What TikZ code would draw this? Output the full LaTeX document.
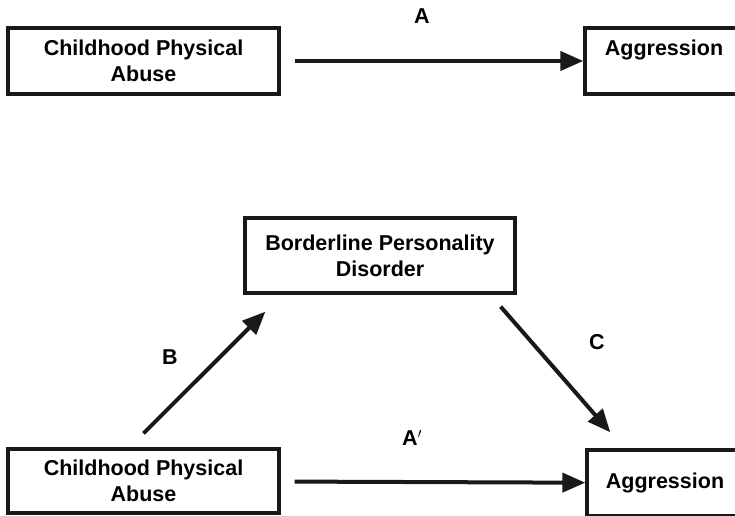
\documentclass[tikz,border=0pt]{standalone}
\usepackage{fontspec}
\setmainfont{Liberation Sans}
\usetikzlibrary{arrows.meta, positioning}

\begin{document}
\begin{tikzpicture}[
    x=1pt, y=1pt,
    every node/.style={font=\fontsize{21.5}{26}\selectfont\bfseries, align=center},
    cadru/.style={draw=black!90, line width=3.3pt, inner sep=0pt},
    eticheta/.style={inner sep=0pt},
    sageata/.style={-{Triangle[length=23pt, width=19pt]}, line width=4pt, black!90}
]
\useasboundingbox (0,0) rectangle (735,515);
% model A
\node[cadru, minimum width=271pt, minimum height=66pt] (cpa1) at (143.5,454) {Childhood Physical\\Abuse};
\node[cadru, minimum width=158pt, minimum height=66pt] (agg1) at (664,454) {Aggression\\\mbox{}};
\draw[sageata, shorten <=14pt] (cpa1) -- (agg1);
\node[eticheta] (lA) at (422,499) {A};
% model mediat
\node[cadru, minimum width=270pt, minimum height=75pt] (bpd) at (380,259.5) {Borderline Personality\\Disorder};
\node[cadru, minimum width=271pt, minimum height=64pt] (cpa2) at (143.5,34) {Childhood Physical\\Abuse};
\node[cadru, minimum width=156pt, minimum height=66pt] (agg2) at (665,32) {Aggression};
\draw[sageata] ([yshift=14pt]cpa2.north) -- ([shift={(22pt,-17pt)}]bpd.south west);
\draw[sageata] ([shift={(-16pt,-12pt)}]bpd.south east) -- ([shift={(25pt,16pt)}]agg2.north west);
\draw[sageata, shorten <=14pt] (cpa2) -- (agg2);
\node[eticheta] (lB) at (170,158) {B};
\node[eticheta] (lC) at (597,173) {C};
\node[eticheta] (lA2) at (412,77) {A$'$};
\end{tikzpicture}
\end{document}
